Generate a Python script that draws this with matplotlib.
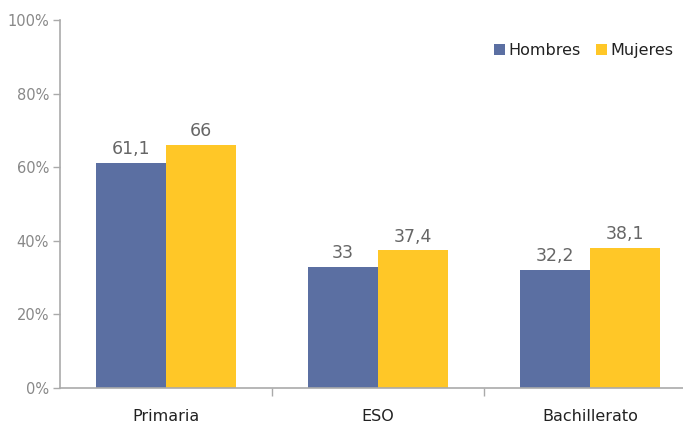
import matplotlib
matplotlib.use("Agg")
import matplotlib.pyplot as plt
import numpy as np

categories = ["Primaria", "ESO", "Bachillerato"]
series_names = ["Hombres", "Mujeres"]
hombres = [61.1, 33.0, 32.2]
mujeres = [66.0, 37.4, 38.1]
value_labels_h = ["61,1", "33", "32,2"]
value_labels_m = ["66", "37,4", "38,1"]
yticks = [0, 20, 40, 60, 80, 100]
ytick_labels = ["0%", "20%", "40%", "60%", "80%", "100%"]

c_h = "#5B6FA2"
c_m = "#FFC727"
gray_axis = "#AAAAAA"
gray_tick = "#888888"
gray_val = "#666666"

fig = plt.figure(figsize=(6.83, 4.26), dpi=100)
ax = fig.add_axes([60/683, 38/426, (683-60)/683, (388-20)/426])

x = np.arange(len(categories))
w = 0.33
bh = ax.bar(x - w/2, hombres, w, color=c_h, label=series_names[0])
bm = ax.bar(x + w/2, mujeres, w, color=c_m, label=series_names[1])

for xi, v, t in zip(x - w/2, hombres, value_labels_h):
    ax.text(xi, v + 1.3, t, ha="center", va="bottom", fontsize=12.5, color=gray_val)
for xi, v, t in zip(x + w/2, mujeres, value_labels_m):
    ax.text(xi, v + 1.3, t, ha="center", va="bottom", fontsize=12.5, color=gray_val)

ax.set_ylim(0, 100)
ax.set_xlim(-0.5, 2.5 - 13/212)
ax.set_yticks(yticks)
ax.set_yticklabels(ytick_labels)
ax.set_xticks(x)
ax.set_xticklabels(categories)
ax.set_xticks([0.5, 1.5], minor=True)

for s in ["top", "right"]:
    ax.spines[s].set_visible(False)
for s in ["left", "bottom"]:
    ax.spines[s].set_color(gray_axis)
    ax.spines[s].set_linewidth(1.2)

ax.tick_params(axis="y", colors=gray_axis, labelcolor=gray_tick, labelsize=10.5, length=5, width=1, pad=3)
ax.tick_params(axis="x", which="major", length=0, labelsize=11.5, labelcolor="#222222", pad=15)
ax.tick_params(axis="x", which="minor", length=6, color=gray_axis, width=1)

leg = ax.legend(loc="center right", bbox_to_anchor=(0.985, 0.916), frameon=False, ncol=2,
                fontsize=11.5, handlelength=0.7, handleheight=0.7, handletextpad=0.2,
                columnspacing=1.0, borderpad=0, borderaxespad=0)
for t in leg.get_texts():
    t.set_color("#222222")

fig.savefig("out.png", dpi=100)
